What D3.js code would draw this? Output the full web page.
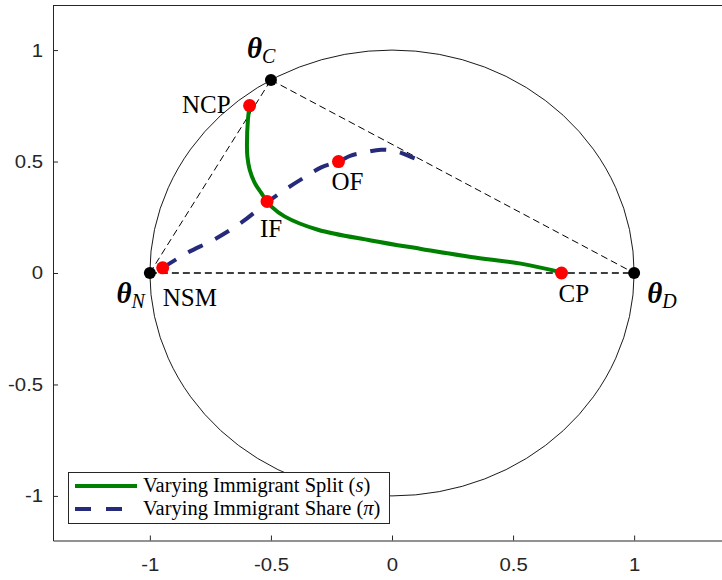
<!DOCTYPE html>
<html>
<head>
<meta charset="UTF-8">
<title>Immigrant split / share paths</title>
<style>
  body { margin: 0; background: #fff; }
  .tick text { font-family: "Liberation Sans", Arial, sans-serif; font-size: 18.5px; fill: #262626; }
  .tick line, .domain { stroke: #262626; }
  .lbl { font-family: "Liberation Serif", "Times New Roman", serif; font-size: 25px; fill: #000; }
  .leg { font-family: "Liberation Serif", "Times New Roman", serif; font-size: 20.5px; fill: #000; }
</style>
</head>
<body>
<svg id="chart"></svg>
<script src="https://cdn.jsdelivr.net/npm/d3@7"></script>
<script>
// ticks
var xTicks = [-1, -0.5, 0, 0.5, 1];
var yTicks = [-1, -0.5, 0, 0.5, 1];

// triangle vertices (theta_N, theta_C, theta_D)
var vertexNames = ["N", "C", "D"];
var vertexX = [-1, -0.5, 1];
var vertexY = [0, 0.866, 0];

// marked points
var pointNames = ["NCP", "IF", "OF", "NSM", "CP"];
var pointX = [-0.588, -0.516, -0.221, -0.947, 0.700];
var pointY = [0.751, 0.321, 0.500, 0.023, 0.000];

// Varying Immigrant Split (s)
var splitX = [-0.588, -0.595, -0.599, -0.597, -0.588, -0.567, -0.540, -0.516, -0.499, -0.444, -0.306, -0.087, 0.120, 0.326, 0.532, 0.700];
var splitY = [0.751, 0.688, 0.568, 0.520, 0.464, 0.404, 0.359, 0.321, 0.299, 0.254, 0.194, 0.146, 0.108, 0.072, 0.042, 0.003];

// Varying Immigrant Share (pi)
var shareX = [-0.947, -0.850, -0.730, -0.620, -0.516, -0.440, -0.360, -0.290, -0.221, -0.170, -0.115, -0.045, 0.020, 0.080, 0.124];
var shareY = [0.023, 0.088, 0.153, 0.228, 0.317, 0.375, 0.430, 0.475, 0.500, 0.527, 0.540, 0.553, 0.545, 0.520, 0.500];

var W = 722, H = 580;
// plot box edges (px)
var box = { left: 53, top: 5.5, bottom: 540.5, right: 731 };

var svg = d3.select("#chart").attr("width", W).attr("height", H);

var x = d3.scaleLinear().domain([-1.4, 1.4]).range([box.left, box.right]);
var y = d3.scaleLinear().domain([-1.2, 1.2]).range([box.bottom, box.top]);

// axes (ticks point inward, like matlab)
var gy = svg.append("g")
  .attr("transform", "translate(" + box.left + ",0)")
  .call(d3.axisLeft(y).tickValues(yTicks).tickSizeInner(-5).tickSizeOuter(0).tickPadding(9)
    .tickFormat(function(d) { return String(d); }));
gy.selectAll(".tick text").attr("transform", "scale(1.1,1)");

var gx = svg.append("g")
  .attr("transform", "translate(0," + box.bottom + ")")
  .call(d3.axisBottom(x).tickValues(xTicks).tickSizeInner(-5).tickSizeOuter(0).tickPadding(17)
    .tickFormat(function(d) { return String(d); }));
gx.selectAll(".tick text").attr("transform", "scale(1.1,1)");

// top box line
svg.append("line")
  .attr("x1", box.left).attr("x2", W).attr("y1", box.top).attr("y2", box.top)
  .attr("stroke", "#262626");

// unit circle
svg.append("ellipse")
  .attr("cx", x(0)).attr("cy", y(0))
  .attr("rx", x(1) - x(0)).attr("ry", y(0) - y(1))
  .attr("fill", "none").attr("stroke", "#000").attr("stroke-width", 0.9);

// dashed triangle
var edges = [[0, 1], [1, 2], [0, 2]];
svg.selectAll(".edge").data(edges).enter().append("line")
  .attr("x1", function(e) { return x(vertexX[e[0]]); })
  .attr("y1", function(e) { return y(vertexY[e[0]]); })
  .attr("x2", function(e) { return x(vertexX[e[1]]); })
  .attr("y2", function(e) { return y(vertexY[e[1]]); })
  .attr("stroke", "#000")
  .attr("stroke-width", function(e, i) { return i === 2 ? 1.6 : 1; })
  .attr("stroke-dasharray", "7 4");

var line = d3.line()
  .x(function(d) { return x(d[0]); })
  .y(function(d) { return y(d[1]); })
  .curve(d3.curveCatmullRom);

svg.append("path")
  .attr("d", line(d3.zip(splitX, splitY)))
  .attr("fill", "none").attr("stroke", "#008000").attr("stroke-width", 4);

svg.append("path")
  .attr("d", line(d3.zip(shareX, shareY)))
  .attr("fill", "none").attr("stroke", "#262a7a").attr("stroke-width", 4)
  .attr("stroke-dasharray", "16 14");

// vertices
svg.selectAll(".vtx").data(vertexNames).enter().append("circle")
  .attr("cx", function(d, i) { return x(vertexX[i]); })
  .attr("cy", function(d, i) { return y(vertexY[i]); })
  .attr("r", 6).attr("fill", "#000");

// red points
svg.selectAll(".pt").data(pointNames).enter().append("circle")
  .attr("cx", function(d, i) { return x(pointX[i]); })
  .attr("cy", function(d, i) { return y(pointY[i]); })
  .attr("r", 6.5).attr("fill", "#ff0000");

// label placement (pixel offsets)
var pointOff = { NCP: [-19, 7, "end"], IF: [-7, 36, "start"], OF: [-7, 28, "start"], NSM: [0, 38, "start"], CP: [-3, 29, "start"] };
pointNames.forEach(function(n, i) {
  var o = pointOff[n];
  svg.append("text").attr("class", "lbl")
    .attr("x", x(pointX[i]) + o[0]).attr("y", y(pointY[i]) + o[1])
    .attr("text-anchor", o[2]).text(n);
});

var vertexOff = { N: [-5, 30, "end"], C: [-24, -22, "start"], D: [13, 30, "start"] };
vertexNames.forEach(function(n, i) {
  var o = vertexOff[n];
  var t = svg.append("text").attr("class", "lbl")
    .attr("x", x(vertexX[i]) + o[0]).attr("y", y(vertexY[i]) + o[1])
    .attr("text-anchor", o[2]);
  t.append("tspan").attr("font-weight", "bold").attr("font-style", "italic").attr("font-size", "29px").text("θ");
  t.append("tspan").attr("font-style", "italic").attr("font-size", "20px").attr("dy", 5).text(n);
});

// legend
var lg = svg.append("g");
lg.append("rect").attr("x", 68.5).attr("y", 472.5).attr("width", 321).attr("height", 51)
  .attr("fill", "#fff").attr("stroke", "#262626").attr("stroke-width", 1);
lg.append("line").attr("x1", 75).attr("x2", 137).attr("y1", 486).attr("y2", 486)
  .attr("stroke", "#008000").attr("stroke-width", 4);
lg.append("line").attr("x1", 75).attr("x2", 137).attr("y1", 509).attr("y2", 509)
  .attr("stroke", "#262a7a").attr("stroke-width", 4).attr("stroke-dasharray", "16 15");

var t1 = lg.append("text").attr("class", "leg").attr("x", 143).attr("y", 492);
t1.append("tspan").text("Varying Immigrant Split (");
t1.append("tspan").attr("font-style", "italic").text("s");
t1.append("tspan").text(")");

var t2 = lg.append("text").attr("class", "leg").attr("x", 143).attr("y", 515);
t2.append("tspan").text("Varying Immigrant Share (");
t2.append("tspan").attr("font-style", "italic").text("π");
t2.append("tspan").text(")");
</script>
</body>
</html>
